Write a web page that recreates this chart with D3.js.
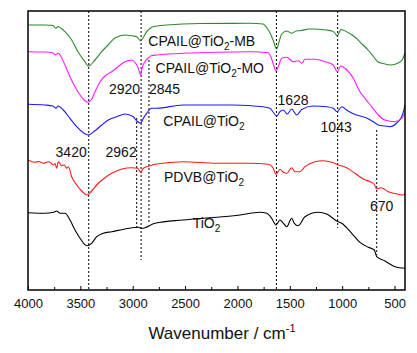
<!DOCTYPE html>
<html>
<head>
<meta charset="utf-8">
<script src="https://cdn.jsdelivr.net/npm/d3@7"></script>
<style>
  body { margin: 0; background: #fff; }
  svg { display: block; }
  text { font-family: "Liberation Sans", Arial, sans-serif; }
</style>
</head>
<body>
<div id="chart"></div>
<script>
// FTIR spectra, [wavenumber cm-1, transmittance a.u.]
const tio2 = [
  [4000, 77.3], [3838, 76.7], [3758, 77.7], [3726, 79], [3694, 76.7], [3647, 76.7],
  [3599, 70], [3551, 60], [3503, 51.7], [3439, 44.3], [3392, 46.7], [3344, 53.3],
  [3281, 56.7], [3201, 58.3], [3074, 61], [2947, 62.7], [2914, 61.7], [2787, 66.7],
  [2520, 70], [2198, 72.7], [1976, 75], [1785, 77.7], [1721, 76.7], [1673, 71.7],
  [1632, 65], [1594, 70], [1562, 66.7], [1529, 63.3], [1482, 71.7], [1457, 66.7],
  [1419, 64.3], [1355, 73.3], [1228, 77.7], [1148, 76], [1052, 69], [1004, 66.7],
  [909, 56.7], [830, 47.7], [750, 42.7], [693, 40], [670, 33.3], [591, 29],
  [496, 23.3], [400, 21.7]
];

const pdvb = [
  [4000, 130], [3933, 127.7], [3895, 128.5], [3854, 126.7], [3806, 128.3], [3780, 127],
  [3758, 125], [3742, 126.5], [3726, 121.7], [3711, 128.3], [3678, 124.3], [3653, 125],
  [3630, 121.7], [3615, 123.3], [3583, 113.3], [3535, 105], [3487, 99], [3434, 95],
  [3392, 99], [3344, 105], [3281, 111], [3201, 116.7], [3105, 121], [3010, 122.3],
  [2952, 121.7], [2924, 117.7], [2899, 121.7], [2835, 124.3], [2787, 125.7], [2520, 128.3],
  [2198, 126.7], [1880, 126.7], [1705, 125.7], [1658, 121.7], [1632, 115.7], [1594, 120.7],
  [1562, 117.7], [1529, 116.7], [1482, 122.3], [1450, 118.3], [1403, 118.3], [1355, 123.3],
  [1259, 128.3], [1180, 129.3], [1100, 127.7], [1037, 125], [957, 122.3], [878, 116.7],
  [798, 111], [734, 108.3], [696, 106], [670, 101], [629, 102.3], [559, 98.3],
  [464, 95.7], [416, 95], [400, 96.7]
];

const cpail = [
  [4000, 185.7], [3838, 185], [3761, 184], [3733, 181.7], [3711, 184], [3663, 180],
  [3599, 171.7], [3535, 163.3], [3472, 157.3], [3424, 155], [3360, 159.3], [3296, 165],
  [3233, 170], [3153, 173.3], [3074, 176], [2994, 173.3], [2962, 169], [2940, 167.5],
  [2924, 166.7], [2899, 171.7], [2867, 176.7], [2819, 181.7], [2771, 181.7], [2520, 185],
  [2042, 185], [1756, 183.3], [1689, 181.7], [1660, 178], [1625, 174], [1594, 178.3],
  [1562, 180], [1524, 176], [1482, 181], [1434, 175], [1386, 180.5], [1278, 184],
  [1148, 183.3], [1085, 181.7], [1049, 178.3], [1004, 183.3], [957, 180], [909, 177],
  [861, 175], [766, 172], [703, 168.3], [655, 165], [591, 164], [543, 163.3],
  [479, 167], [432, 173.3], [416, 178], [400, 185]
];

const cpailMO = [
  [4000, 238.3], [3838, 238], [3761, 237.3], [3742, 235], [3711, 236.7], [3694, 235],
  [3647, 225], [3599, 213.3], [3551, 203.3], [3503, 195], [3456, 189.3], [3430, 187.7],
  [3392, 190.7], [3360, 198.3], [3312, 208.3], [3265, 214], [3201, 218.3], [3141, 223.3],
  [3074, 228.3], [3010, 230], [2972, 226.7], [2947, 221.7], [2924, 215], [2909, 222.7],
  [2883, 228.3], [2851, 232], [2819, 234.5], [2771, 235], [2520, 236.7], [1880, 238.3],
  [1708, 237.3], [1680, 233], [1660, 226.7], [1632, 219], [1610, 223.3], [1577, 231.7],
  [1529, 232.7], [1467, 228.3], [1419, 229.3], [1386, 226.7], [1355, 230.7], [1259, 230.7],
  [1164, 228.3], [1085, 225], [1046, 218.3], [1014, 224], [973, 221.7], [894, 211.7],
  [830, 198.3], [782, 191.7], [718, 183.3], [655, 175], [591, 170], [496, 168.3],
  [432, 171.7], [400, 176.7]
];

const cpailMB = [
  [4000, 265], [3838, 265], [3761, 264.5], [3733, 261.7], [3714, 263.5], [3675, 261],
  [3647, 258.3], [3583, 250], [3523, 238.3], [3456, 228.3], [3424, 224], [3360, 230],
  [3296, 238.3], [3236, 245], [3169, 252], [3074, 255], [2997, 254], [2962, 253.3],
  [2924, 249], [2902, 252], [2867, 258.3], [2835, 261.5], [2806, 263.3], [2673, 265],
  [2358, 266.5], [1880, 266.7], [1756, 266], [1718, 262], [1689, 257], [1660, 250],
  [1625, 241], [1603, 248], [1577, 256], [1529, 259], [1482, 256.7], [1441, 259],
  [1403, 259.3], [1307, 261], [1148, 260], [1097, 259], [1069, 257], [1049, 254],
  [1031, 257], [1011, 260.5], [957, 258.3], [906, 255], [868, 252], [810, 246],
  [753, 240], [705, 234], [658, 228], [610, 226.5], [533, 225], [467, 227],
  [428, 230], [400, 237]
];

const seriesNames = ["TiO2", "PDVB@TiO2", "CPAIL@TiO2", "CPAIL@TiO2-MO", "CPAIL@TiO2-MB"];
const seriesData = [tio2, pdvb, cpail, cpailMO, cpailMB];
const seriesColors = ["#000000", "#ff1a1a", "#1a1aff", "#ff1aff", "#2a8a2a"];

// where each series name is written: [wavenumber at text start, a.u. at baseline]
const seriesLabelAt = [[2427, 62], [2701, 108], [2708, 164], [2782, 217], [2851, 244]];

// marked bands: wavenumber, dotted line from/to (a.u.)
const bands = [3420, 2962, 2920, 2845, 1628, 1043, 670];
const bandTop = [279, 172, 279, 230, 279, 279, 160];
const bandBottom = [0, 60, 30, 68, 0, 62, 35];

// band labels: a.u. at baseline, anchor, dx
const bandLabelY = [133, 133, 196, 196, 185, 158.5, 79];
const bandAnchor = ["end", "end", "end", "start", "start", "middle", "middle"];
const bandDx = [-2, 0, -1, 0, 1, -1.5, 5];

const majorTicks = [4000, 3500, 3000, 2500, 2000, 1500, 1000, 500];
const minorTicks = [3750, 3250, 2750, 2250, 1750, 1250, 750];

const width = 417;
const height = 353;
const margin = { top: 11, right: 12, bottom: 63, left: 28 };
const innerWidth = width - margin.left - margin.right;
const innerHeight = height - margin.top - margin.bottom;

const svg = d3.select("#chart")
  .append("svg")
  .attr("width", width)
  .attr("height", height);

const innerChart = svg
  .append("g")
  .attr("transform", `translate(${margin.left}, ${margin.top})`);

const xScale = d3.scaleLinear()
  .domain([4000, 400])
  .range([0, innerWidth]);

const yScale = d3.scaleLinear()
  .domain([0, 279])
  .range([innerHeight, 0]);

// dotted band markers
bands.forEach((b, i) => {
  innerChart.append("line")
    .attr("x1", xScale(b))
    .attr("x2", xScale(b))
    .attr("y1", yScale(bandTop[i]))
    .attr("y2", yScale(bandBottom[i]))
    .attr("stroke", "#000")
    .attr("stroke-width", 1)
    .attr("stroke-dasharray", "2,2");
});

// spectra
const lineGenerator = d3.line()
  .x(d => xScale(d[0]))
  .y(d => yScale(d[1]))
  .curve(d3.curveMonotoneX);

seriesData.forEach((s, i) => {
  innerChart.append("path")
    .attr("d", lineGenerator(s))
    .attr("fill", "none")
    .attr("stroke", seriesColors[i])
    .attr("stroke-width", 1.1);
});

// series names with subscript 2
seriesNames.forEach((name, i) => {
  const [before, after] = name.split("TiO2");
  const t = innerChart.append("text")
    .attr("x", xScale(seriesLabelAt[i][0]))
    .attr("y", yScale(seriesLabelAt[i][1]))
    .attr("font-size", 14)
    .attr("fill", "#111");
  t.append("tspan").text(before + "TiO");
  t.append("tspan").text("2").attr("font-size", 10).attr("dy", 4);
  if (after) t.append("tspan").text(after).attr("dy", -4);
});

// band labels
bands.forEach((b, i) => {
  innerChart.append("text")
    .attr("x", xScale(b) + bandDx[i])
    .attr("y", yScale(bandLabelY[i]))
    .attr("text-anchor", bandAnchor[i])
    .attr("font-size", 14)
    .attr("fill", "#111")
    .text(b);
});

// axes, ticks pointing inward
const bottomAxis = d3.axisBottom(xScale)
  .tickValues(majorTicks)
  .tickFormat(d3.format("d"))
  .tickSizeInner(-4)
  .tickSizeOuter(0)
  .tickPadding(9);

const xAxisG = innerChart.append("g")
  .attr("transform", `translate(0, ${innerHeight})`)
  .call(bottomAxis);
xAxisG.select(".domain").remove();
xAxisG.selectAll("text")
  .attr("font-size", 13)
  .attr("font-family", '"Liberation Sans", Arial, sans-serif')
  .attr("fill", "#111");

const minorAxis = d3.axisBottom(xScale)
  .tickValues(minorTicks)
  .tickSizeInner(-3)
  .tickSizeOuter(0)
  .tickFormat("");

const minorG = innerChart.append("g")
  .attr("transform", `translate(0, ${innerHeight})`)
  .call(minorAxis);
minorG.select(".domain").remove();

// frame
innerChart.append("rect")
  .attr("width", innerWidth)
  .attr("height", innerHeight)
  .attr("fill", "none")
  .attr("stroke", "#000")
  .attr("stroke-width", 1.5);

// axis title
const title = svg.append("text")
  .attr("x", 222)
  .attr("y", 339)
  .attr("text-anchor", "middle")
  .attr("font-size", 17)
  .attr("fill", "#111");
title.append("tspan").text("Wavenumber / cm");
title.append("tspan").text("-1").attr("font-size", 11).attr("dy", -7);
</script>
</body>
</html>
